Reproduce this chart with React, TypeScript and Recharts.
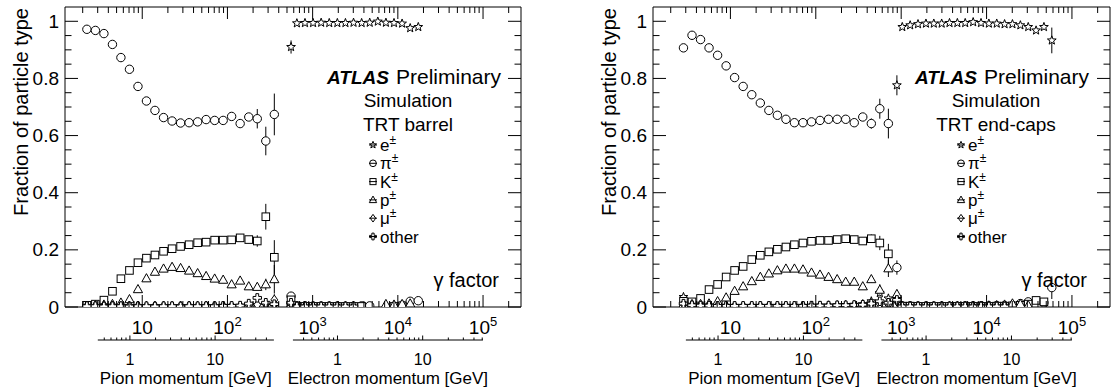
import React from 'react';
import {
  ComposedChart,
  Scatter,
  XAxis,
  YAxis,
  ErrorBar,
  ReferenceLine,
  Legend,
} from 'recharts';

const FONT = '"Liberation Sans", Arial, Helvetica, sans-serif';

// particle masses [GeV]: momentum scales are drawn on the gamma axis
const M_PION = 0.13957;
const M_ELECTRON = 0.000511;

const GAMMA_DOMAIN: [number, number] = [1.24, 279000];
const Y_DOMAIN: [number, number] = [0, 1.05];

const CHART_H = 390;
const PLOT_TOP = 7;
const PLOT_H = 300;
const GAMMA_AXIS_H = 33;
const MOM_AXIS_H = CHART_H - PLOT_TOP - PLOT_H - GAMMA_AXIS_H;

// ---- axis ticks ----
const gammaMajorTicks = [10, 100, 1000, 10000, 100000];
const gammaMajorExp = [1, 2, 3, 4, 5];
const gammaMinorTicks = [
  2, 3, 4, 5, 6, 7, 8, 9, 20, 30, 40, 50, 60, 70, 80, 90, 200, 300, 400, 500, 600, 700, 800, 900,
  2000, 3000, 4000, 5000, 6000, 7000, 8000, 9000, 20000, 30000, 40000, 50000, 60000, 70000, 80000,
  90000, 200000,
];
const yMajorTicks = [0, 0.2, 0.4, 0.6, 0.8, 1];
const yMajorLabels = ['0', '0.2', '0.4', '0.6', '0.8', '1'];
const yMinorTicks = [0.05, 0.1, 0.15, 0.25, 0.3, 0.35, 0.45, 0.5, 0.55, 0.65, 0.7, 0.75, 0.85, 0.9, 0.95];

const pionMomRange = [0.42, 49];
const pionMomMajor = [1, 10];
const pionMomMinor = [0.5, 0.6, 0.7, 0.8, 0.9, 2, 3, 4, 5, 6, 7, 8, 9, 20, 30, 40];
const electronMomRange = [0.3, 51];
const electronMomMajor = [1, 10];
const electronMomMinor = [0.4, 0.5, 0.6, 0.7, 0.8, 0.9, 2, 3, 4, 5, 6, 7, 8, 9, 20, 30, 40, 50];

// ---- barrel data (gamma bin centres, fractions) ----
const barrelGamma = [
  2.24, 2.82, 3.55, 4.47, 5.62, 7.08, 8.91, 11.2, 14.1, 17.8, 22.4, 28.2, 35.5, 44.7, 56.2, 70.8,
  89.1, 112, 141, 178, 224, 282, 355,
  558, 653, 813, 1012, 1259, 1567, 1950, 2427, 3020, 3758, 4677, 5821, 7244, 9016, 11220, 13964, 17378,
];
const barrelE = [
  0.004, 0.005, 0.004, 0.004, 0.003, 0.003, 0.003, 0.003, 0.003, 0.003,
  0.003, 0.003, 0.003, 0.003, 0.003, 0.003, 0.004, 0.004, 0.004, 0.005,
  0.006, 0.006, 0.008,
  0.910, 0.993, 0.994, 0.994, 0.995, 0.994, 0.994, 0.994, 0.995, 0.994,
  0.995, 0.999, 0.995, 0.994, 0.992, 0.976, 0.980,
];
const barrelPi = [
  0.972, 0.968, 0.957, 0.919, 0.873, 0.832, 0.772, 0.721, 0.688, 0.663,
  0.651, 0.644, 0.645, 0.648, 0.656, 0.653, 0.653, 0.667, 0.642, 0.665,
  0.659, 0.581, 0.674,
  0.038, 0.004, 0.004, 0.003, 0.003, 0.003, 0.003, 0.003, 0.003, 0.004,
  0.004, null, null, null, 0.006, 0.020, 0.022,
];
const barrelK = [
  0.006, 0.010, 0.024, 0.055, 0.099, 0.128, 0.155, 0.171, 0.182, 0.195,
  0.204, 0.212, 0.218, 0.225, 0.227, 0.234, 0.234, 0.235, 0.242, 0.236,
  0.231, 0.316, 0.174,
  0.025, 0.003, 0.002, 0.002, 0.002, 0.002, 0.002, 0.002, 0.002, 0.002,
  null, null, null, 0.002, 0.004, null, null,
];
const barrelP = [
  0.004, 0.006, 0.008, 0.010, 0.015, 0.027, 0.062, 0.100, 0.123, 0.134,
  0.140, 0.136, 0.127, 0.118, 0.108, 0.099, 0.095, 0.079, 0.092, 0.072,
  0.070, 0.079, 0.097,
  0.010, 0.002, 0.002, 0.002, 0.002, 0.002, 0.002, 0.002, 0.002, null,
  null, null, 0.010, 0.008, 0.010, 0.012, null,
];
const barrelMu = [
  0.004, 0.003, 0.004, 0.004, 0.003, 0.004, 0.004, 0.003, 0.004, 0.004,
  0.003, 0.004, 0.004, 0.003, 0.004, 0.004, 0.004, 0.004, 0.004, 0.006,
  0.008, 0.010, 0.025,
  0.010, 0.002, 0.002, 0.002, 0.002, 0.002, 0.002, 0.002, 0.002, null,
  null, null, null, null, null, null, null,
];
const barrelOther = [
  0.003, 0.003, 0.002, 0.003, 0.003, 0.002, 0.003, 0.003, 0.002, 0.003,
  0.003, 0.002, 0.003, 0.003, 0.003, 0.003, 0.004, 0.004, 0.005, 0.012,
  0.032, 0.015, 0.010,
  0.015, 0.002, 0.002, 0.002, 0.002, 0.002, 0.002, 0.002, 0.002, null,
  null, null, null, null, null, null, null,
];
// statistical errors, by bin index
const barrelEErr: Record<number, number> = { 23: 0.023 };
const barrelPiErr: Record<number, number> = { 20: 0.034, 21: 0.05, 22: 0.073, 23: 0.01, 38: 0.006, 39: 0.006 };
const barrelKErr: Record<number, number> = { 20: 0.02, 21: 0.045, 22: 0.06, 23: 0.008 };
const barrelPErr: Record<number, number> = { 21: 0.02, 22: 0.05 };
const barrelMuErr: Record<number, number> = { 22: 0.02 };
const barrelOtherErr: Record<number, number> = { 20: 0.008, 21: 0.01 };

// ---- end-cap data ----
const endcapGamma = [
  2.82, 3.55, 4.47, 5.62, 7.08, 8.91, 11.2, 14.1, 17.8, 22.4, 28.2, 35.5, 44.7, 56.2, 70.8, 89.1,
  112, 141, 178, 224, 282, 355, 447, 562, 708,
  891,
  1030, 1274, 1574, 1950, 2410, 2979, 3681, 4550, 5623, 6966, 8610, 10641, 13152, 16255, 20091,
  24889, 30761, 38019, 46989, 58076,
];
const endcapE = [
  0.035, 0.010, 0.006, 0.005, 0.005, 0.004, 0.004, 0.004, 0.004, 0.004,
  0.004, 0.004, 0.004, 0.004, 0.004, 0.004, 0.005, 0.005, 0.006, 0.007,
  0.008, 0.010, 0.020, 0.049, 0.030,
  0.776,
  0.980, 0.986, 0.990, 0.992, 0.992, 0.992, 0.994, 0.994, 0.994, 0.997,
  0.994, 0.992, 0.992, 0.990, 0.990, 0.986, 0.980, 0.968, 0.980, 0.933,
];
const endcapPi = [
  0.907, 0.951, 0.936, 0.907, 0.881, 0.844, 0.803, 0.772, 0.743, 0.714,
  0.688, 0.671, 0.657, 0.645, 0.645, 0.648, 0.653, 0.657, 0.657, 0.657,
  0.645, 0.665, 0.642, 0.694, 0.642,
  0.138,
  0.004, 0.004, 0.003, 0.003, 0.003, 0.003, 0.003, 0.003, 0.004, 0.004,
  0.004, 0.004, 0.005, 0.005, 0.006, 0.012, 0.018, null, 0.015, 0.068,
];
const endcapK = [
  0.020, 0.018, 0.030, 0.061, 0.079, 0.105, 0.128, 0.142, 0.166, 0.181,
  0.193, 0.202, 0.210, 0.218, 0.224, 0.230, 0.233, 0.233, 0.236, 0.239,
  0.236, 0.231, 0.239, 0.224, 0.186,
  0.012,
  0.003, 0.003, 0.002, 0.002, 0.002, 0.002, 0.002, 0.002, 0.002, 0.002,
  0.002, 0.002, 0.003, 0.003, 0.004, 0.006, 0.010, 0.023, 0.018, null,
];
const endcapP = [
  0.010, 0.010, 0.010, 0.012, 0.020, 0.033, 0.056, 0.072, 0.090, 0.105,
  0.117, 0.128, 0.134, 0.134, 0.131, 0.120, 0.113, 0.105, 0.097, 0.088,
  0.088, 0.072, 0.097, 0.060, 0.135,
  0.045,
  0.003, 0.003, 0.003, 0.002, 0.002, 0.002, 0.002, 0.003, 0.003, 0.004,
  0.004, 0.005, 0.006, 0.008, 0.012, 0.010, 0.006, null, null, null,
];
const endcapMu = [
  0.010, 0.006, 0.005, 0.005, 0.004, 0.004, 0.004, 0.004, 0.004, 0.004,
  0.004, 0.004, 0.004, 0.004, 0.004, 0.004, 0.004, 0.005, 0.005, 0.005,
  0.006, 0.008, 0.012, 0.010, 0.008,
  0.020,
  0.002, 0.002, 0.002, 0.002, 0.002, 0.002, 0.002, 0.002, 0.002, 0.002,
  0.002, 0.002, 0.002, 0.002, null, null, null, null, null, null,
];
const endcapOther = [
  0.012, 0.006, 0.005, 0.005, 0.004, 0.004, 0.004, 0.004, 0.004, 0.004,
  0.004, 0.004, 0.004, 0.004, 0.004, 0.005, 0.005, 0.005, 0.006, 0.006,
  0.007, 0.008, 0.012, 0.020, 0.015,
  0.025,
  0.002, 0.002, 0.002, 0.002, 0.002, 0.002, 0.002, 0.002, 0.002, 0.002,
  0.002, 0.002, 0.002, 0.002, null, null, null, null, null, null,
];
const endcapEErr: Record<number, number> = { 25: 0.035, 44: 0.01, 45: 0.045 };
const endcapPiErr: Record<number, number> = { 22: 0.018, 23: 0.035, 24: 0.052, 25: 0.025, 45: 0.04 };
const endcapKErr: Record<number, number> = { 22: 0.015, 23: 0.025, 24: 0.035 };
const endcapPErr: Record<number, number> = { 22: 0.012, 23: 0.02, 24: 0.03, 25: 0.015 };
const endcapMuErr: Record<number, number> = {};
const endcapOtherErr: Record<number, number> = {};

// ---- legend ----
type Kind = 'e' | 'pi' | 'k' | 'p' | 'mu' | 'other';
const legendKinds: Kind[] = ['e', 'pi', 'k', 'p', 'mu', 'other'];
const legendNames = ['e', 'π', 'K', 'p', 'μ', 'other'];
const legendSup = ['±', '±', '±', '±', '±', ''];

type Pt = { g: number; v: number; e: number };
const toPoints = (gamma: number[], vals: (number | null)[], err: Record<number, number>): Pt[] =>
  gamma.flatMap((g, i) => (vals[i] == null ? [] : [{ g, v: vals[i] as number, e: err[i] ?? 0 }]));

const barrelSeries: { kind: Kind; data: Pt[] }[] = [
  { kind: 'e', data: toPoints(barrelGamma, barrelE, barrelEErr) },
  { kind: 'pi', data: toPoints(barrelGamma, barrelPi, barrelPiErr) },
  { kind: 'k', data: toPoints(barrelGamma, barrelK, barrelKErr) },
  { kind: 'p', data: toPoints(barrelGamma, barrelP, barrelPErr) },
  { kind: 'mu', data: toPoints(barrelGamma, barrelMu, barrelMuErr) },
  { kind: 'other', data: toPoints(barrelGamma, barrelOther, barrelOtherErr) },
];
const endcapSeries: { kind: Kind; data: Pt[] }[] = [
  { kind: 'e', data: toPoints(endcapGamma, endcapE, endcapEErr) },
  { kind: 'pi', data: toPoints(endcapGamma, endcapPi, endcapPiErr) },
  { kind: 'k', data: toPoints(endcapGamma, endcapK, endcapKErr) },
  { kind: 'p', data: toPoints(endcapGamma, endcapP, endcapPErr) },
  { kind: 'mu', data: toPoints(endcapGamma, endcapMu, endcapMuErr) },
  { kind: 'other', data: toPoints(endcapGamma, endcapOther, endcapOtherErr) },
];

// momentum sub-axes, placed on the gamma scale
type SubTick = { g: number; major?: boolean; label?: string; title?: string };
const momTicks: SubTick[] = [
  ...pionMomMajor.map((p) => ({ g: p / M_PION, major: true, label: String(p) })),
  ...pionMomMinor.map((p) => ({ g: p / M_PION })),
  ...electronMomMajor.map((p) => ({ g: p / M_ELECTRON, major: true, label: String(p) })),
  ...electronMomMinor.map((p) => ({ g: p / M_ELECTRON })),
  { g: Math.sqrt(pionMomRange[0] * pionMomRange[1]) / M_PION, title: 'Pion momentum [GeV]' },
  { g: Math.sqrt(electronMomRange[0] * electronMomRange[1]) / M_ELECTRON, title: 'Electron momentum [GeV]' },
];
const momTickValues = momTicks.map((t) => t.g).sort((a, b) => a - b);
const SUB_AXIS_Y = -(GAMMA_AXIS_H / PLOT_H) * (Y_DOMAIN[1] - Y_DOMAIN[0]);

const gammaTicks = [...gammaMajorTicks, ...gammaMinorTicks].sort((a, b) => a - b);
const yTicks = [...yMajorTicks, ...yMinorTicks].sort((a, b) => a - b);

// ---- markers ----
const starPoints = (cx: number, cy: number, R: number, r: number) =>
  Array.from({ length: 10 }, (_, i) => {
    const a = -Math.PI / 2 + (i * Math.PI) / 5;
    const rad = i % 2 === 0 ? R : r;
    return `${cx + rad * Math.cos(a)},${cy + rad * Math.sin(a)}`;
  }).join(' ');

const Marker = ({ kind, cx, cy, s = 1 }: { kind: Kind; cx: number; cy: number; s?: number }) => {
  const st = { fill: '#fff', stroke: '#000', strokeWidth: 1 };
  switch (kind) {
    case 'pi':
      return <circle cx={cx} cy={cy} r={4.2 * s} {...st} />;
    case 'k':
      return <rect x={cx - 3.8 * s} y={cy - 3.8 * s} width={7.6 * s} height={7.6 * s} {...st} />;
    case 'p':
      return (
        <polygon
          points={`${cx},${cy - 4.8 * s} ${cx + 4.6 * s},${cy + 3.4 * s} ${cx - 4.6 * s},${cy + 3.4 * s}`}
          {...st}
        />
      );
    case 'mu':
      return (
        <polygon
          points={`${cx},${cy - 4.8 * s} ${cx + 3.4 * s},${cy} ${cx},${cy + 4.8 * s} ${cx - 3.4 * s},${cy}`}
          {...st}
        />
      );
    case 'other': {
      const a = 1.4 * s;
      const b = 4.2 * s;
      const pts = [
        [-a, -b], [a, -b], [a, -a], [b, -a], [b, a], [a, a],
        [a, b], [-a, b], [-a, a], [-b, a], [-b, -a], [-a, -a],
      ].map(([x, y]) => `${cx + x},${cy + y}`).join(' ');
      return <polygon points={pts} {...st} />;
    }
    default:
      return <polygon points={starPoints(cx, cy, 4.6 * s, 1.9 * s)} {...st} />;
  }
};

// ---- ticks (ROOT style, pointing into the frame) ----
const GammaTick = (props: any) => {
  const { x, y, payload } = props;
  const i = gammaMajorTicks.indexOf(payload.value);
  const major = i >= 0;
  return (
    <g>
      <line x1={x} x2={x} y1={y} y2={y - (major ? 12 : 6)} stroke="#000" />
      {major && (
        <text x={x} y={y + 27} textAnchor="middle" fontSize={19} fill="#000">
          10
          {gammaMajorExp[i] > 1 && (
            <tspan dy={-8} fontSize={13}>
              {gammaMajorExp[i]}
            </tspan>
          )}
        </text>
      )}
    </g>
  );
};

const TopTick = (props: any) => {
  const { x, y, payload } = props;
  const major = gammaMajorTicks.includes(payload.value);
  return <line x1={x} x2={x} y1={y} y2={y + (major ? 12 : 6)} stroke="#000" />;
};

const MomTick = (props: any) => {
  const { x, y, payload } = props;
  const t = momTicks.find((d) => d.g === payload.value);
  if (!t) return <g />;
  if (t.title) {
    return (
      <text x={x} y={y + 43.5} textAnchor="middle" fontSize={17} fill="#000">
        {t.title}
      </text>
    );
  }
  return (
    <g>
      <line x1={x} x2={x} y1={y} y2={y - (t.major ? 4.5 : 2.5)} stroke="#000" />
      {t.label && (
        <text x={x} y={y + 24.5} textAnchor="middle" fontSize={16} fill="#000">
          {t.label}
        </text>
      )}
    </g>
  );
};

const YTickLeft = (props: any) => {
  const { x, y, payload } = props;
  const i = yMajorTicks.indexOf(payload.value);
  return (
    <g>
      <line x1={x} x2={x + (i >= 0 ? 13 : 6.5)} y1={y} y2={y} stroke="#000" />
      {i >= 0 && (
        <text x={x - 6} y={y + 6.5} textAnchor="end" fontSize={19} fill="#000">
          {yMajorLabels[i]}
        </text>
      )}
    </g>
  );
};

const YTickRight = (props: any) => {
  const { x, y, payload } = props;
  const major = yMajorTicks.includes(payload.value);
  return <line x1={x} x2={x - (major ? 13 : 6.5)} y1={y} y2={y} stroke="#000" />;
};

// ---- text block and legend inside the frame ----
const Annotations = ({ width, region }: { width: number; region: string }) => (
  <svg width={width} height={CHART_H} style={{ overflow: 'visible', fontFamily: FONT }}>
    <text x={327} y={84} fontSize={19} fontWeight="bold" fontStyle="italic" fill="#000">
      ATLAS
    </text>
    <text x={396} y={84} fontSize={21} fill="#000">
      Preliminary
    </text>
    <text x={408} y={107} fontSize={19} textAnchor="middle" fill="#000">
      Simulation
    </text>
    <text x={408} y={131} fontSize={19} textAnchor="middle" fill="#000">
      {region}
    </text>
    {legendKinds.map((kind, i) => {
      const cy = 145 + i * 18.3;
      return (
        <g key={kind}>
          <Marker kind={kind} cx={373} cy={cy} s={0.8} />
          <line x1={369} x2={377} y1={cy} y2={cy} stroke="#000" />
          <text x={380} y={cy + 6} fontSize={17} fill="#000">
            {legendNames[i]}
            {legendSup[i] && (
              <tspan dy={-7} fontSize={12}>
                {legendSup[i]}
              </tspan>
            )}
          </text>
        </g>
      );
    })}
    <text x={499} y={287} fontSize={20} textAnchor="end" fill="#000">
      γ factor
    </text>
  </svg>
);

interface PanelProps {
  width: number;
  marginRight: number;
  region: string;
  series: { kind: Kind; data: Pt[] }[];
}

const Panel = ({ width, marginRight, region, series }: PanelProps) => (
  <ComposedChart
    width={width}
    height={CHART_H}
    margin={{ top: 0, right: marginRight, bottom: 0, left: 0 }}
  >
    <XAxis
      xAxisId="g"
      dataKey="g"
      type="number"
      scale="log"
      domain={GAMMA_DOMAIN}
      allowDataOverflow
      ticks={gammaTicks}
      interval={0}
      height={GAMMA_AXIS_H}
      tickSize={0}
      tickMargin={0}
      tickLine={false}
      axisLine={{ stroke: '#000' }}
      tick={GammaTick}
    />
    <XAxis
      xAxisId="mom"
      dataKey="g"
      type="number"
      scale="log"
      domain={GAMMA_DOMAIN}
      allowDataOverflow
      ticks={momTickValues}
      interval={0}
      height={MOM_AXIS_H}
      tickSize={0}
      tickMargin={0}
      tickLine={false}
      axisLine={false}
      tick={MomTick}
    />
    <XAxis
      xAxisId="top"
      orientation="top"
      dataKey="g"
      type="number"
      scale="log"
      domain={GAMMA_DOMAIN}
      allowDataOverflow
      ticks={gammaTicks}
      interval={0}
      height={PLOT_TOP}
      tickSize={0}
      tickMargin={0}
      tickLine={false}
      axisLine={{ stroke: '#000' }}
      tick={TopTick}
    />
    <YAxis
      yAxisId="l"
      dataKey="v"
      type="number"
      domain={Y_DOMAIN}
      allowDataOverflow
      ticks={yTicks}
      interval={0}
      width={65}
      tickSize={0}
      tickMargin={0}
      tickLine={false}
      axisLine={{ stroke: '#000' }}
      tick={YTickLeft}
      label={{
        value: 'Fraction of particle type',
        content: (p: any) => {
          const vb = p.viewBox || { x: 0, y: PLOT_TOP };
          return (
            <text
              transform={`translate(${vb.x + 28},${vb.y + 1}) rotate(-90)`}
              textAnchor="end"
              fontSize={20}
              fill="#000"
            >
              Fraction of particle type
            </text>
          );
        },
      }}
    />
    <YAxis
      yAxisId="r"
      orientation="right"
      dataKey="v"
      type="number"
      domain={Y_DOMAIN}
      allowDataOverflow
      ticks={yTicks}
      interval={0}
      width={5}
      tickSize={0}
      tickMargin={0}
      tickLine={false}
      axisLine={{ stroke: '#000' }}
      tick={YTickRight}
    />
    <ReferenceLine
      xAxisId="g"
      yAxisId="l"
      ifOverflow="visible"
      stroke="#000"
      segment={[
        { x: pionMomRange[0] / M_PION, y: SUB_AXIS_Y },
        { x: pionMomRange[1] / M_PION, y: SUB_AXIS_Y },
      ]}
    />
    <ReferenceLine
      xAxisId="g"
      yAxisId="l"
      ifOverflow="visible"
      stroke="#000"
      segment={[
        { x: electronMomRange[0] / M_ELECTRON, y: SUB_AXIS_Y },
        { x: electronMomRange[1] / M_ELECTRON, y: SUB_AXIS_Y },
      ]}
    />
    {series.map((s) => (
      <Scatter
        key={s.kind}
        data={s.data}
        xAxisId="g"
        yAxisId="l"
        isAnimationActive={false}
        shape={(p: any) => <Marker kind={s.kind} cx={p.cx} cy={p.cy} />}
      >
        <ErrorBar dataKey="e" direction="y" width={0} stroke="#000" strokeWidth={1} isAnimationActive={false} />
      </Scatter>
    ))}
    <Legend
      layout="horizontal"
      verticalAlign="middle"
      align="center"
      content={() => <Annotations width={width} region={region} />}
      wrapperStyle={{ left: 0, top: 0, width, height: CHART_H, pointerEvents: 'none' }}
    />
  </ComposedChart>
);

export default function App() {
  return (
    <div
      style={{
        position: 'absolute',
        left: 0,
        top: 0,
        width: 1115,
        height: CHART_H,
        background: '#fff',
        fontFamily: FONT,
      }}
    >
      <div style={{ position: 'absolute', left: 0, top: 0 }}>
        <Panel width={557} marginRight={31} region="TRT barrel" series={barrelSeries} />
      </div>
      <div style={{ position: 'absolute', left: 588, top: 0 }}>
        <Panel width={527} marginRight={0} region="TRT end-caps" series={endcapSeries} />
      </div>
    </div>
  );
}
